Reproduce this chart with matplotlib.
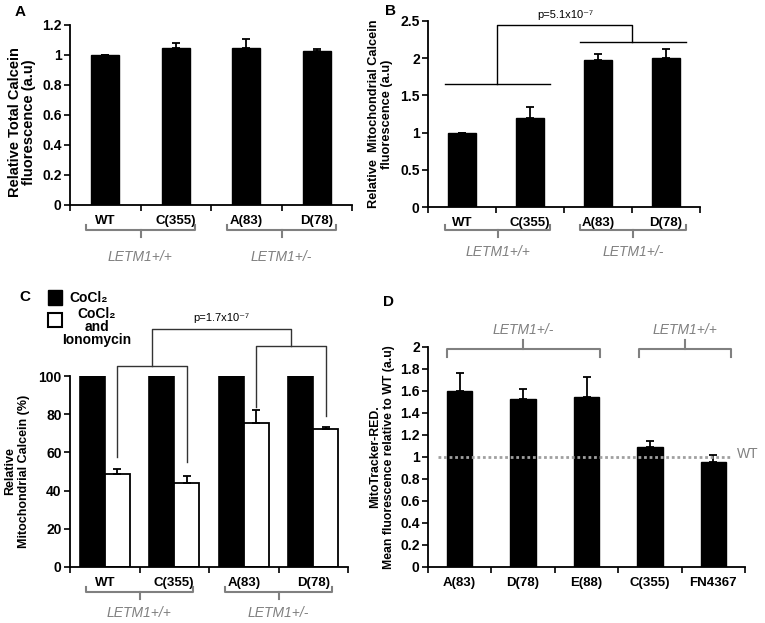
import numpy as np
import matplotlib
matplotlib.use("Agg")
import matplotlib.pyplot as plt
from matplotlib.transforms import blended_transform_factory

plt.rcParams['font.family'] = ['Liberation Sans', 'DejaVu Sans']
plt.rcParams['font.weight'] = 'bold'

# panel A
a_labels = ['WT', 'C(355)', 'A(83)', 'D(78)']
a_values = [1.0, 1.05, 1.045, 1.025]
a_errors = [0.0, 0.03, 0.06, 0.015]

# panel B
b_labels = ['WT', 'C(355)', 'A(83)', 'D(78)']
b_values = [1.0, 1.2, 1.98, 2.0]
b_errors = [0.0, 0.14, 0.08, 0.12]

# panel C
c_labels = ['WT', 'C(355)', 'A(83)', 'D(78)']
c_cocl2 = [100, 100, 100, 100]
c_iono = [48.5, 44.0, 75.5, 72.5]
c_iono_err = [3.0, 3.5, 6.5, 1.0]

# panel D
d_labels = ['A(83)', 'D(78)', 'E(88)', 'C(355)', 'FN4367']
d_values = [1.6, 1.53, 1.55, 1.09, 0.955]
d_errors = [0.16, 0.09, 0.18, 0.06, 0.06]

GRAY = '#808080'

fig = plt.figure(figsize=(7.65, 6.23), dpi=100)
W, H = 765, 623


def add_axes(left, right, top, bottom):
    return fig.add_axes([left / W, 1 - bottom / H, (right - left) / W, (bottom - top) / H])


def style_axes(ax, labels, ylim, yticks, yticklabels):
    n = len(labels)
    ax.set_xlim(-0.5, n - 0.5)
    ax.set_ylim(*ylim)
    ax.set_yticks(yticks)
    ax.set_yticklabels(yticklabels, fontsize=10, fontweight='bold')
    ax.set_xticks(range(n))
    ax.set_xticklabels(labels, fontsize=9.5, fontweight='bold')
    ax.set_xticks(np.arange(-0.5, n, 1.0), minor=True)
    ax.tick_params(axis='x', which='major', length=0, pad=7)
    ax.tick_params(axis='x', which='minor', length=4, width=1.2, direction='out')
    ax.tick_params(axis='y', length=4, width=1.2, direction='out', pad=2)
    for s in ['top', 'right']:
        ax.spines[s].set_visible(False)
    for s in ['left', 'bottom']:
        ax.spines[s].set_linewidth(1.3)


def group_bracket(ax, x0, x1, label, below=25, text_below=47):
    tr = blended_transform_factory(ax.transData, ax.transAxes)
    h = ax.bbox.height
    y = -below / h
    yend = -(below - 5) / h
    ytick = -(below + 7) / h
    xc = (x0 + x1) / 2
    ax.plot([x0, x0, x1, x1], [yend, y, y, yend], color=GRAY, lw=1.5,
            transform=tr, clip_on=False, solid_joinstyle='round')
    ax.plot([xc, xc], [y, ytick], color=GRAY, lw=1.5, transform=tr, clip_on=False)
    ax.text(xc, -text_below / h, label, transform=tr, ha='center', va='center',
            fontsize=10, style='italic', fontweight='normal', color=GRAY)


# ---------------- A ----------------
axA = add_axes(70, 352, 25, 205)
x = np.arange(len(a_labels))
axA.bar(x, a_values, width=0.4, color='black', edgecolor='black')
axA.errorbar(x, a_values, yerr=[np.zeros(len(a_errors)), a_errors], fmt='none',
             ecolor='black', elinewidth=1.3, capsize=3, capthick=1.3)
style_axes(axA, a_labels, (0, 1.2), np.arange(0, 1.21, 0.2),
           ['0', '0.2', '0.4', '0.6', '0.8', '1', '1.2'])
axA.set_ylabel('Relative Total Calcein\nfluorescence (a.u)', fontsize=10.5, fontweight='bold',
               labelpad=5, linespacing=1.05)
axA.yaxis.set_label_coords(-0.12, 0.46)
group_bracket(axA, -0.27, 1.27, 'LETM1+/+', 25, 52)
group_bracket(axA, 1.73, 3.27, 'LETM1+/-', 25, 52)
fig.text(20 / W, 1 - 12 / H, 'A', fontsize=11, fontweight='bold', va='center', ha='center')

# ---------------- B ----------------
axB = add_axes(428, 700, 21, 207)
x = np.arange(len(b_labels))
axB.bar(x, b_values, width=0.42, color='black', edgecolor='black')
axB.errorbar(x, b_values, yerr=[np.zeros(len(b_errors)), b_errors], fmt='none',
             ecolor='black', elinewidth=1.3, capsize=3, capthick=1.3)
style_axes(axB, b_labels, (0, 2.5), np.arange(0, 2.51, 0.5),
           ['0', '0.5', '1', '1.5', '2', '2.5'])
axB.set_ylabel('Relative  Mitochondrial Calcein\nfluorescence (a.u)', fontsize=9.2, fontweight='bold',
               labelpad=5, linespacing=1.1)
group_bracket(axB, -0.25, 1.3, 'LETM1+/+', 23, 45)
group_bracket(axB, 1.74, 3.29, 'LETM1+/-', 23, 45)
# significance bracket
axB.plot([-0.25, 1.3], [1.65, 1.65], color='black', lw=1, clip_on=False)
axB.plot([1.74, 3.29], [2.22, 2.22], color='black', lw=1, clip_on=False)
axB.plot([0.52, 0.52, 2.5, 2.5], [1.65, 2.45, 2.45, 2.22], color='black', lw=1, clip_on=False)
axB.text(1.52, 2.58, 'p=5.1x10⁻⁷', ha='center', va='center', fontsize=8, fontweight='normal')
fig.text(390 / W, 1 - 11 / H, 'B', fontsize=11, fontweight='bold', va='center', ha='center')

# ---------------- C ----------------
axC = add_axes(70, 348, 376, 567)
x = np.arange(len(c_labels))
bw = 0.36
axC.bar(x - bw / 2, c_cocl2, width=bw, color='black', edgecolor='black', lw=1.2)
axC.bar(x + bw / 2, c_iono, width=bw, color='white', edgecolor='black', lw=1.3)
axC.errorbar(x + bw / 2, c_iono, yerr=[np.zeros(len(c_iono_err)), c_iono_err], fmt='none',
             ecolor='black', elinewidth=1.3, capsize=3, capthick=1.3)
style_axes(axC, c_labels, (0, 100), np.arange(0, 101, 20),
           ['0', '20', '40', '60', '80', '100'])
axC.set_ylabel('Relative\nMitochondrial Calcein (%)', fontsize=9, fontweight='bold', labelpad=6)
group_bracket(axC, -0.27, 1.27, 'LETM1+/+', 25, 46)
group_bracket(axC, 1.73, 3.27, 'LETM1+/-', 25, 46)
# significance bracket
lc = '#333333'
xw = x + bw / 2
axC.plot([xw[0], xw[0], xw[1], xw[1]], [57.5, 105, 105, 55], color=lc, lw=1, clip_on=False)
axC.plot([xw[2], xw[2], xw[3], xw[3]], [84, 115.5, 115.5, 79], color=lc, lw=1, clip_on=False)
xl = (xw[0] + xw[1]) / 2
xr = (xw[2] + xw[3]) / 2
axC.plot([xl, xl, xr, xr], [105, 124.5, 124.5, 115.5], color=lc, lw=1, clip_on=False)
axC.text((xl + xr) / 2, 130.5, 'p=1.7x10⁻⁷', ha='center', va='center', fontsize=8, fontweight='normal')
# legend
fig.patches.append(plt.Rectangle((48 / W, 1 - 305 / H), 14 / W, 15 / H, transform=fig.transFigure,
                                 facecolor='black', edgecolor='black'))
fig.patches.append(plt.Rectangle((48 / W, 1 - 327 / H), 14 / W, 14 / H, transform=fig.transFigure,
                                 facecolor='white', edgecolor='black', lw=1.5))
fig.text(69 / W, 1 - 298 / H, 'CoCl₂', fontsize=10, fontweight='bold', va='center', ha='left')
fig.text(97 / W, 1 - 327 / H, 'CoCl₂\nand\nIonomycin', fontsize=10, fontweight='bold',
         va='center', ha='center', linespacing=0.95)
fig.text(25 / W, 1 - 297 / H, 'C', fontsize=11, fontweight='bold', va='center', ha='center')

# ---------------- D ----------------
axD = add_axes(428, 745, 347, 567)
x = np.arange(len(d_labels))
axD.bar(x, d_values, width=0.4, color='black', edgecolor='black')
axD.errorbar(x, d_values, yerr=[np.zeros(len(d_errors)), d_errors], fmt='none',
             ecolor='black', elinewidth=1.3, capsize=3, capthick=1.3)
style_axes(axD, d_labels, (0, 2), np.arange(0, 2.01, 0.2),
           ['0', '0.2', '0.4', '0.6', '0.8', '1', '1.2', '1.4', '1.6', '1.8', '2'])
axD.set_ylabel('MitoTracker-RED.\nMean fluorescence relative to WT (a.u)', fontsize=8.8,
               fontweight='bold', labelpad=4)
axD.axhline(1.0, xmin=0.03, xmax=0.96, color='#a0a0a0', lw=2, ls=(0, (1, 1)), zorder=3)
axD.text(4.37, 1.03, 'WT', color=GRAY, fontsize=10, fontweight='normal', ha='left', va='center')
for x0, x1, lab in [(-0.2, 2.21, 'LETM1+/-'), (2.83, 4.28, 'LETM1+/+')]:
    xc = (x0 + x1) / 2
    axD.plot([x0, x0, x1, x1], [1.91, 1.98, 1.98, 1.91], color=GRAY, lw=1.5, clip_on=False)
    axD.plot([xc, xc], [1.98, 2.06], color=GRAY, lw=1.5, clip_on=False)
    axD.text(xc, 2.15, lab, color=GRAY, fontsize=10, style='italic', fontweight='normal',
             ha='center', va='center')
fig.text(388 / W, 1 - 302 / H, 'D', fontsize=11, fontweight='bold', va='center', ha='center')

fig.savefig('out.png', dpi=100)
